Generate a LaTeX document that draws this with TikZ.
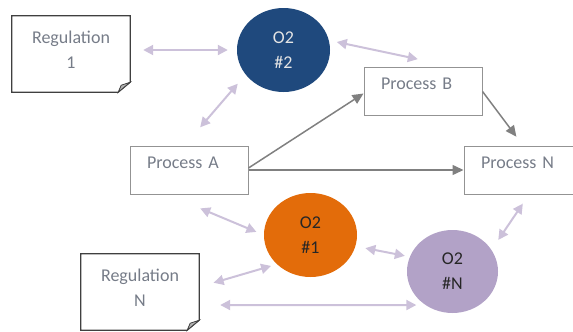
\documentclass[tikz,border=0pt]{standalone}
\usepackage{fontspec}
\setmainfont{Carlito}
\usepackage{tikz}
\usetikzlibrary{shapes.geometric,arrows.meta}
\definecolor{oxblue}{RGB}{31,73,125}
\definecolor{oxorange}{RGB}{227,108,10}
\definecolor{oxlilac}{RGB}{178,162,199}
\definecolor{linklilac}{RGB}{204,193,218}
\definecolor{flowgray}{RGB}{128,128,128}
\definecolor{labelgray}{RGB}{118,124,136}

\begin{document}
\begin{tikzpicture}[x=1pt,y=-1pt,
	every node/.style={font=\fontsize{18}{25}\selectfont},
	process/.style={draw=flowgray!85, line width=1pt, text=labelgray, text width=84pt, inner xsep=17pt, inner ysep=10pt, text height=12pt, text depth=16pt, align=left},
	regulation/.style={minimum width=118pt, minimum height=76pt, inner sep=0pt, text=labelgray, align=center, text depth=9pt},
	oxygen/.style={ellipse, minimum width=93pt, minimum height=84pt, inner sep=0pt, align=center},
	link/.style={linklilac, line width=2pt, {Triangle[length=10pt,width=10pt]}-{Triangle[length=10pt,width=10pt]}},
	flow/.style={flowgray, line width=1.5pt, -{Triangle[length=11pt,width=10pt]}}]
	\useasboundingbox (0,0) rectangle (573,332);

	% regulations (folded sheets)
	\node[regulation] (reg1) at (71,54) {Regulation\\1};
	\node[regulation] (regN) at (140,292) {Regulation\\N};
	\foreach \r in {reg1,regN}{
		\draw[line width=1.2pt, draw=black!75] (\r.north west) -- (\r.north east) -- ([yshift=10pt]\r.south east) -- ([xshift=-12pt]\r.south east) -- (\r.south west) -- cycle;
		\filldraw[line width=0.8pt, draw=black!75, fill=black!30] ([yshift=10pt]\r.south east) -- ([xshift=-9pt,yshift=7pt]\r.south east) -- ([xshift=-12pt]\r.south east) -- cycle;
	}

	% O2 sensors
	\node[oxygen, fill=oxblue, text=white!90!black] (o2b) at (283.5,50) {O2\\\#2};
	\node[oxygen, fill=oxorange, text=black!85] (o2a) at (310.5,235) {O2\\\#1};
	\node[oxygen, fill=oxlilac, minimum width=91pt, minimum height=83pt, text=black!85] (o2n) at (452.5,271.5) {O2\\\#N};

	% processes
	\node[process] (procA) at (189,170) {Process A};
	\node[process] (procB) at (423,91.5) {Process B};
	\node[process] (procN) at (523,170) {Process N};

	% lilac links
	\draw[link, shorten <=13pt, shorten >=9pt] (reg1.east |- o2b.west) -- (o2b.west);
	\draw[link, shorten <=24pt, shorten >=12pt] ([xshift=-4.5pt]procA.north) -- (o2b.213);
	\draw[link, shorten <=8pt, shorten >=38pt] (o2b.12) -- ([xshift=32pt]procB.north);
	\draw[link, shorten <=36pt, shorten >=8pt] ([xshift=-22pt]procA.south) -- (o2a.west);
	\draw[link, shorten <=10pt, shorten >=5pt] (o2a.346) -- (o2n.161);
	\draw[link, shorten <=12pt, shorten >=11pt] (o2n.29) -- ([xshift=6pt]procN.south);
	\draw[link, shorten <=15pt, shorten >=6pt] ([yshift=5pt]regN.east) -- (o2a.221);
	\draw[link, shorten <=21pt, shorten >=9pt] ([yshift=-13pt]regN.east) -- (o2n.231);

	% process flow
	\draw[flow] ([yshift=2pt]procA.east) -- ([yshift=-2pt]procB.west);
	\draw[flow] (procA.east) -- (procN.west);
	\draw[flow, shorten >=11pt] (procB.east) -- (procN.north);
\end{tikzpicture}
\end{document}
